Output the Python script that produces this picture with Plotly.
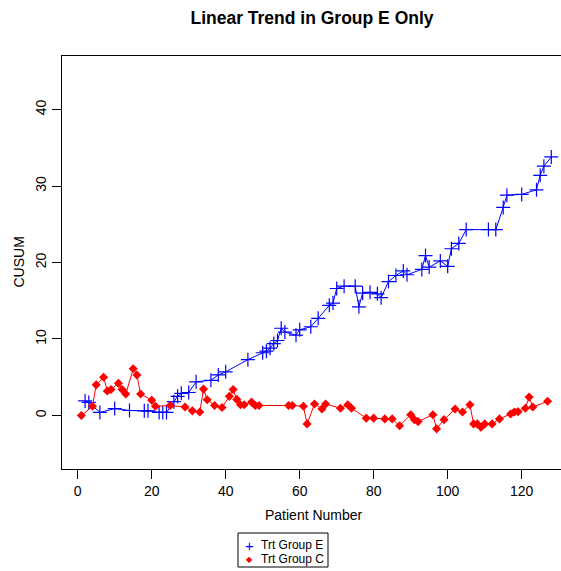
import plotly.graph_objects as go

# CUSUM by patient number, treatment group E
e_patient = [2, 3, 6, 10, 14, 18, 19, 22, 23, 24, 26, 27, 28, 30, 32, 36, 38, 40, 46, 50,
             51, 52, 53, 54, 55, 56, 59, 60, 63, 65, 68, 69, 70, 72, 75, 76, 77, 79, 81, 82,
             84, 86, 88, 89, 93, 94, 95, 98, 100, 101, 103, 105, 111, 113, 115, 116, 120,
             124, 125, 126, 128]
e_cusum = [1.9, 1.7, 0.4, 0.9, 0.65, 0.6, 0.6, 0.4, 0.4, 0.4, 1.8, 2.5, 2.9, 3.0, 4.4, 4.6,
           5.3, 5.7, 7.3, 8.2, 8.4, 8.8, 9.4, 9.8, 11.4, 10.9, 10.5, 11.2, 11.6, 12.7, 14.4,
           14.7, 16.6, 16.9, 16.9, 14.2, 16.0, 16.1, 15.9, 15.4, 17.5, 18.3, 18.9, 18.4,
           19.1, 20.9, 19.4, 20.2, 19.5, 21.8, 22.5, 24.3, 24.3, 24.3, 27.2, 28.8, 28.9,
           29.5, 31.4, 32.6, 33.8]

# CUSUM by patient number, treatment group C
c_patient = [1, 4, 5, 7, 8, 9, 11, 12, 13, 15, 16, 17, 20, 21, 25, 29, 31, 33, 34, 35, 37,
             39, 41, 42, 43, 44, 45, 47, 48, 49, 57, 58, 61, 62, 64, 66, 67, 71, 73, 74, 78,
             80, 83, 85, 87, 90, 91, 92, 96, 97, 99, 102, 104, 106, 107, 108, 109, 110, 112,
             114, 117, 118, 119, 121, 122, 123, 127]
c_cusum = [0, 1.2, 4.0, 5.0, 3.2, 3.4, 4.2, 3.4, 2.8, 6.1, 5.3, 2.8, 2.0, 1.2, 1.3, 1.1, 0.6,
           0.45, 3.45, 2.05, 1.3, 1.05, 2.5, 3.4, 2.1, 1.4, 1.4, 1.75, 1.3, 1.3, 1.3, 1.3,
           1.2, -1.1, 1.5, 0.85, 1.5, 0.95, 1.4, 0.95, -0.35, -0.35, -0.45, -0.45, -1.35,
           0.1, -0.55, -0.8, 0.1, -1.75, -0.55, 0.85, 0.45, 1.4, -1.1, -1.1, -1.55, -1.1,
           -1.1, -0.45, 0.2, 0.45, 0.5, 0.95, 2.4, 1.1, 1.85]

x_ticks = [0, 20, 40, 60, 80, 100, 120]
y_ticks = [0, 10, 20, 30, 40]
legend_labels = ["Trt Group E", "Trt Group C"]

BLUE = "#0000FF"
RED = "#FF0000"
FONT = "Liberation Sans, Arial, Helvetica, sans-serif"

W, H = 561, 571
ML, MR, MT, MB = 62, 0, 56, 102
PW, PH = W - ML - MR, H - MT - MB


def px(x):
    return (x - ML) / PW


def py(y):
    return (H - MB - y) / PH


fig = go.Figure()
fig.add_trace(go.Scatter(
    x=e_patient, y=e_cusum, mode="lines+markers", name=legend_labels[0],
    line=dict(color=BLUE, width=1),
    marker=dict(symbol="cross-thin-open", size=10, line=dict(color=BLUE, width=1.2)),
    showlegend=False,
))
fig.add_trace(go.Scatter(
    x=c_patient, y=c_cusum, mode="lines+markers", name=legend_labels[1],
    line=dict(color=RED, width=1),
    marker=dict(symbol="diamond", size=7, color=RED, line=dict(width=0)),
    showlegend=False,
))

axis_common = dict(
    showgrid=False, zeroline=False, showline=True, linecolor="black", linewidth=1,
    ticks="outside", ticklen=9, tickcolor="black", tickwidth=1,
    tickfont=dict(family=FONT, size=14, color="black"),
)
fig.update_xaxes(range=[(ML - 77.7) / 3.7, (W - 77.7) / 3.7], tickvals=x_ticks,
                 mirror=True, **axis_common)
fig.update_yaxes(range=[-7, 47], tickvals=y_ticks, tickangle=-90, mirror=False,
                 **axis_common)

annotations = [
    dict(text="Patient Number", x=px(314), y=py(515), xref="paper", yref="paper",
         showarrow=False, xanchor="center", yanchor="middle",
         font=dict(family=FONT, size=14, color="black")),
    dict(text="CUSUM", x=px(18), y=0.5, xref="paper", yref="paper", textangle=-90,
         showarrow=False, xanchor="center", yanchor="middle",
         font=dict(family=FONT, size=14, color="black")),
    # legend keys and labels
    dict(text="+", x=px(249), y=py(545), xref="paper", yref="paper", showarrow=False,
         xanchor="center", yanchor="middle", font=dict(family=FONT, size=15, color=BLUE)),
    dict(text="◆", x=px(249), y=py(559), xref="paper", yref="paper", showarrow=False,
         xanchor="center", yanchor="middle",
         font=dict(family="DejaVu Sans", size=8, color=RED)),
    dict(text=legend_labels[0], x=px(259), y=py(545), xref="paper", yref="paper",
         showarrow=False, xanchor="left", yanchor="middle",
         font=dict(family=FONT, size=12, color="black")),
    dict(text=legend_labels[1], x=px(259), y=py(559), xref="paper", yref="paper",
         showarrow=False, xanchor="left", yanchor="middle",
         font=dict(family=FONT, size=12, color="black")),
]

shapes = [
    dict(type="rect", xref="paper", yref="paper", x0=px(238), x1=px(328),
         y0=py(533), y1=py(567), line=dict(color="black", width=1)),
]

fig.update_layout(
    width=W, height=H,
    margin=dict(l=ML, r=MR, t=MT, b=MB),
    paper_bgcolor="white", plot_bgcolor="white",
    title=dict(text="<b>Linear Trend in Group E Only</b>", x=px(312), xanchor="center",
               xref="paper", y=1 - 18 / H, yanchor="middle", yref="container",
               font=dict(family=FONT, size=17.5, color="black")),
    annotations=annotations,
    shapes=shapes,
    showlegend=False,
)

fig.write_html("out.html")
